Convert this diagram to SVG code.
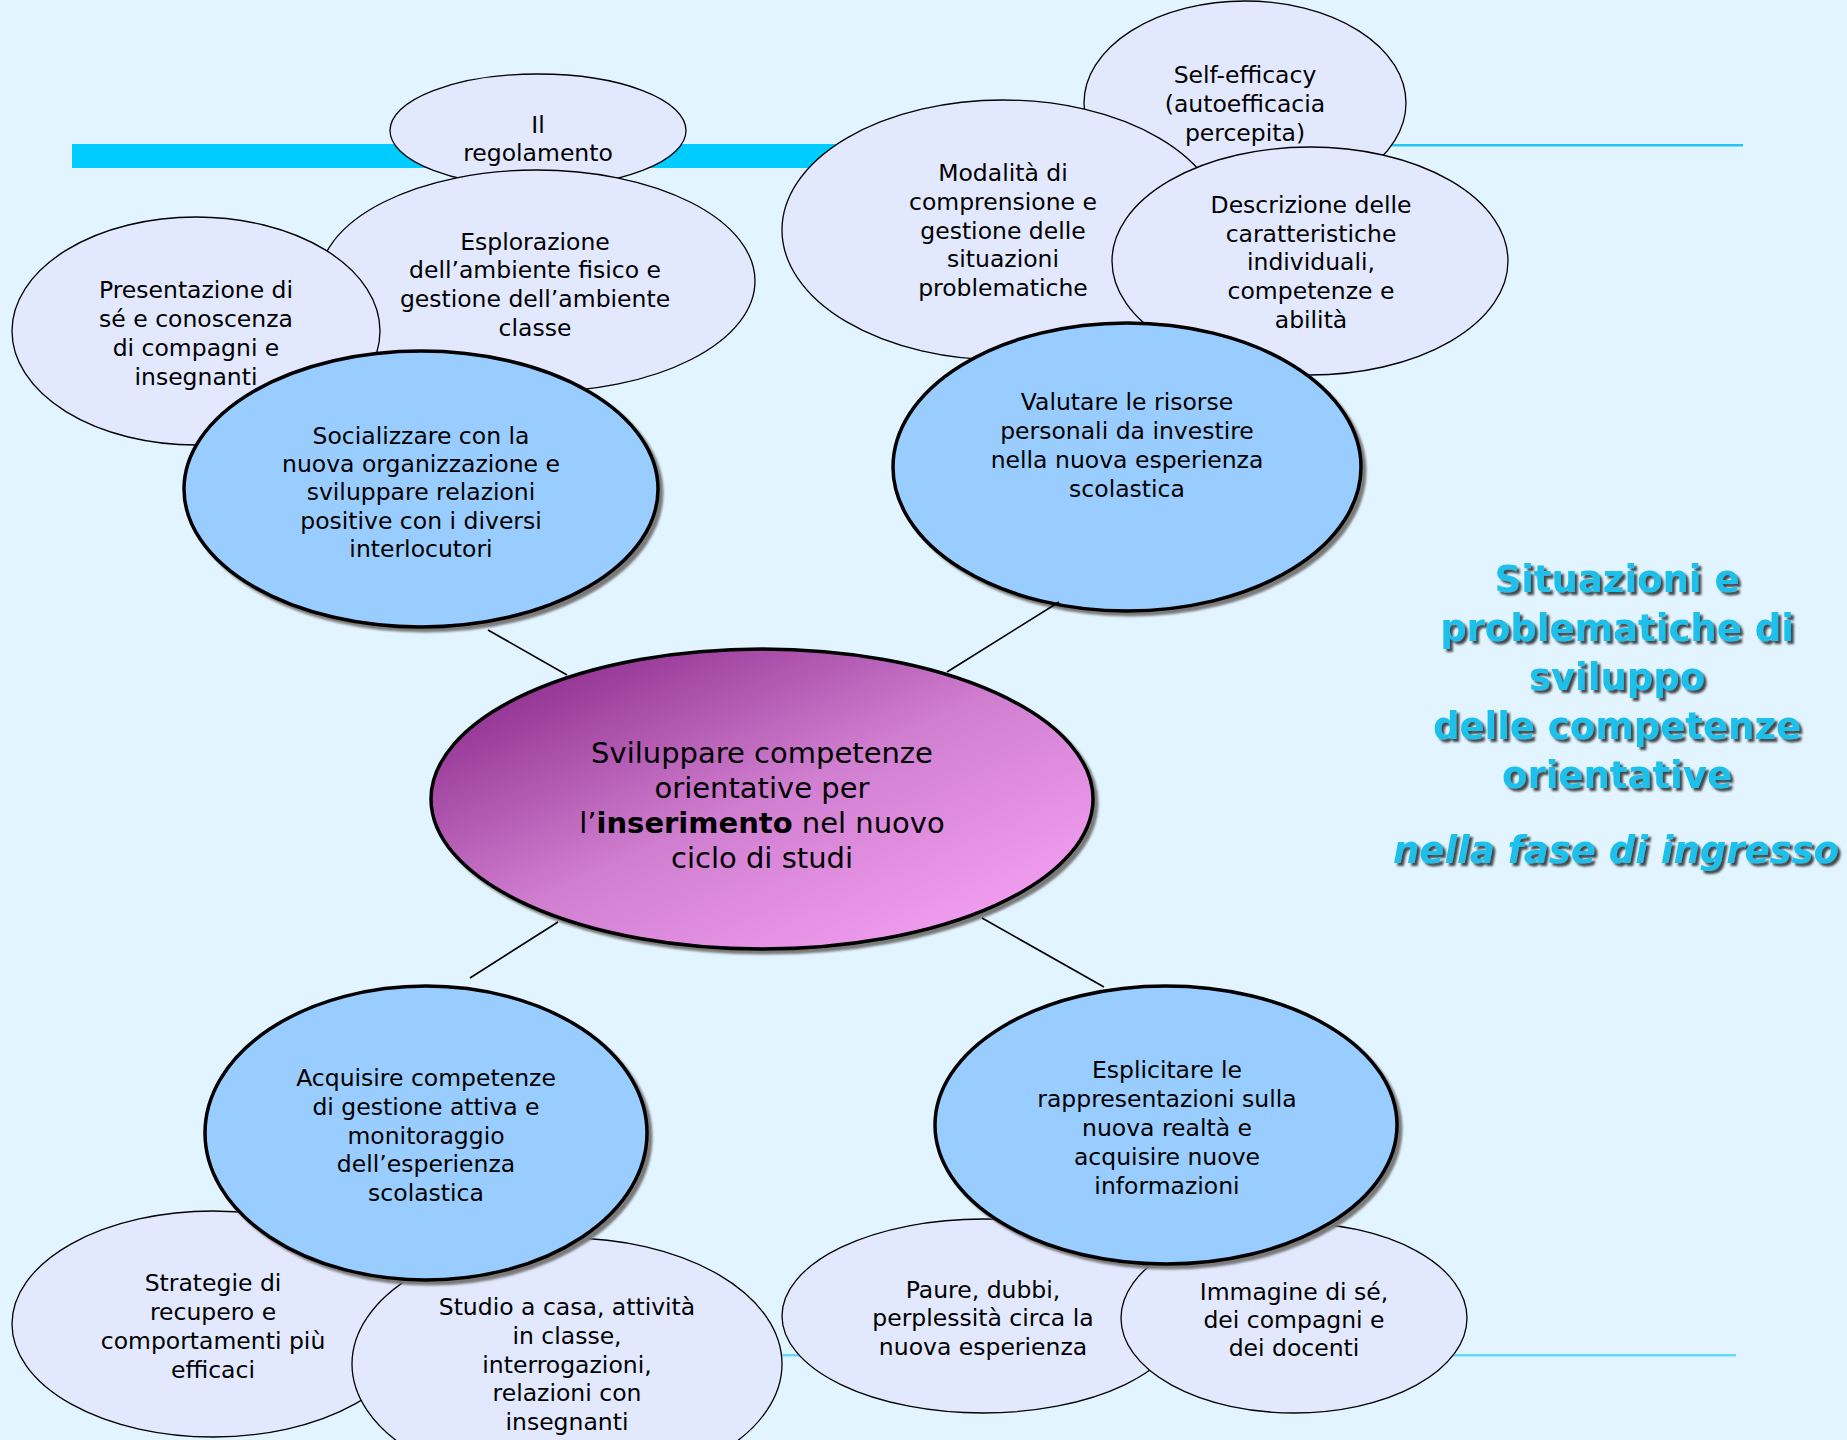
<svg xmlns="http://www.w3.org/2000/svg" width="1847" height="1440" viewBox="0 0 1847 1440">
<defs>
<style>
.sub{fill:#E2E8FE;stroke:#000;stroke-width:1.3}
.main{fill:#99CCFF;stroke:#000;stroke-width:3.5}
.shadow{fill:#7a7a7a;stroke:#7a7a7a;stroke-width:3;filter:url(#blur)}
.t{font-family:"DejaVu Sans","Verdana",sans-serif;font-size:23.5px;fill:#000;text-anchor:middle}
.tc{font-family:"DejaVu Sans","Verdana",sans-serif;font-size:29px;fill:#000;text-anchor:middle}
.title{font-family:"DejaVu Sans","Verdana",sans-serif;font-size:37px;font-weight:bold;fill:#1EC0EA;text-anchor:middle;filter:url(#ds)}
.conn line{stroke:#000;stroke-width:1.6}
</style>
<filter id="blur" x="-5%" y="-5%" width="110%" height="110%"><feGaussianBlur stdDeviation="1"/></filter>
<filter id="ds" x="-5%" y="-20%" width="115%" height="150%"><feDropShadow dx="3" dy="3" stdDeviation="1.2" flood-color="#2a2a2a" flood-opacity="0.85"/></filter>
<linearGradient id="cg" x1="0" y1="0" x2="1" y2="1">
<stop offset="0" stop-color="#7E1A7E"/>
<stop offset="0.5" stop-color="#D07ED0"/>
<stop offset="1" stop-color="#FCA8FA"/>
</linearGradient>
</defs>
<rect width="1847" height="1440" fill="#E1F4FF"/>
<g id="decor">
<rect x="72" y="144" width="940" height="24" fill="#00CCFF"/>
<rect x="1000" y="144" width="743" height="2.5" fill="#22C6F2"/>
<rect x="700" y="1354" width="1036" height="2.5" fill="#66DAF4"/>
</g>
<g id="n-regolamento"><ellipse class="sub" cx="538" cy="130.5" rx="148" ry="56.5"/>
<text class="t" x="538" y="133">Il</text><text class="t" x="538" y="161">regolamento</text></g>
<g id="n-esplorazione"><ellipse class="sub" cx="537" cy="281" rx="218" ry="111"/>
<text class="t" x="535" y="250">Esplorazione</text><text class="t" x="535" y="278">dell’ambiente fisico e</text><text class="t" x="535" y="307">gestione dell’ambiente</text><text class="t" x="535" y="336">classe</text></g>
<g id="n-presentazione"><ellipse class="sub" cx="196" cy="331" rx="184" ry="114"/>
<text class="t" x="196" y="298">Presentazione di</text><text class="t" x="196" y="327">sé e conoscenza</text><text class="t" x="196" y="356">di compagni e</text><text class="t" x="196" y="385">insegnanti</text></g>
<g id="n-socializzare"><ellipse class="shadow" cx="425" cy="493" rx="237" ry="138"/><ellipse class="main" cx="421" cy="489" rx="237" ry="138"/>
<text class="t" x="421" y="444">Socializzare con la</text><text class="t" x="421" y="472">nuova organizzazione e</text><text class="t" x="421" y="500">sviluppare relazioni</text><text class="t" x="421" y="529">positive con i diversi</text><text class="t" x="421" y="557">interlocutori</text></g>
<g id="n-selfefficacy"><ellipse class="sub" cx="1245" cy="103" rx="161" ry="102"/>
<text class="t" x="1245" y="83">Self-efficacy</text><text class="t" x="1245" y="112">(autoefficacia</text><text class="t" x="1245" y="141">percepita)</text></g>
<g id="n-modalita"><ellipse class="sub" cx="1003" cy="230" rx="221" ry="130"/>
<text class="t" x="1003" y="181">Modalità di</text><text class="t" x="1003" y="210">comprensione e</text><text class="t" x="1003" y="239">gestione delle</text><text class="t" x="1003" y="267">situazioni</text><text class="t" x="1003" y="296">problematiche</text></g>
<g id="n-descrizione"><ellipse class="sub" cx="1310" cy="261" rx="198" ry="114"/>
<text class="t" x="1311" y="213">Descrizione delle</text><text class="t" x="1311" y="242">caratteristiche</text><text class="t" x="1311" y="270">individuali,</text><text class="t" x="1311" y="299">competenze e</text><text class="t" x="1311" y="328">abilità</text></g>
<g id="n-valutare"><ellipse class="shadow" cx="1131" cy="471" rx="234" ry="144"/><ellipse class="main" cx="1127" cy="467" rx="234" ry="144"/>
<text class="t" x="1127" y="410">Valutare le risorse</text><text class="t" x="1127" y="439">personali da investire</text><text class="t" x="1127" y="468">nella nuova esperienza</text><text class="t" x="1127" y="497">scolastica</text></g>
<g id="n-strategie"><ellipse class="sub" cx="213" cy="1324" rx="201" ry="113"/>
<text class="t" x="213" y="1291">Strategie di</text><text class="t" x="213" y="1320">recupero e</text><text class="t" x="213" y="1349">comportamenti più</text><text class="t" x="213" y="1378">efficaci</text></g>
<g id="n-studio"><ellipse class="sub" cx="567" cy="1364" rx="215" ry="126"/>
<text class="t" x="567" y="1315">Studio a casa, attività</text><text class="t" x="567" y="1344">in classe,</text><text class="t" x="567" y="1373">interrogazioni,</text><text class="t" x="567" y="1401">relazioni con</text><text class="t" x="567" y="1430">insegnanti</text></g>
<g id="n-acquisire"><ellipse class="shadow" cx="430" cy="1137" rx="221" ry="147"/><ellipse class="main" cx="426" cy="1133" rx="221" ry="147"/>
<text class="t" x="426" y="1086">Acquisire competenze</text><text class="t" x="426" y="1115">di gestione attiva e</text><text class="t" x="426" y="1144">monitoraggio</text><text class="t" x="426" y="1172">dell’esperienza</text><text class="t" x="426" y="1201">scolastica</text></g>
<g id="n-paure"><ellipse class="sub" cx="983" cy="1316" rx="201" ry="97"/>
<text class="t" x="983" y="1298">Paure, dubbi,</text><text class="t" x="983" y="1326">perplessità circa la</text><text class="t" x="983" y="1355">nuova esperienza</text></g>
<g id="n-immagine"><ellipse class="sub" cx="1294" cy="1318" rx="173" ry="95"/>
<text class="t" x="1294" y="1300">Immagine di sé,</text><text class="t" x="1294" y="1328">dei compagni e</text><text class="t" x="1294" y="1356">dei docenti</text></g>
<g id="n-esplicitare"><ellipse class="shadow" cx="1170" cy="1129" rx="231" ry="139"/><ellipse class="main" cx="1166" cy="1125" rx="231" ry="139"/>
<text class="t" x="1167" y="1078">Esplicitare le</text><text class="t" x="1167" y="1107">rappresentazioni sulla</text><text class="t" x="1167" y="1136">nuova realtà e</text><text class="t" x="1167" y="1165">acquisire nuove</text><text class="t" x="1167" y="1194">informazioni</text></g>
<g id="n-center"><ellipse class="shadow" cx="766" cy="803" rx="331" ry="150"/><ellipse cx="762" cy="799" rx="331" ry="150" fill="url(#cg)" stroke="#000" stroke-width="3.5"/>
<text class="tc" x="762" y="763">Sviluppare competenze</text><text class="tc" x="762" y="798">orientative per</text><text class="tc" x="762" y="833">l’<tspan font-weight="bold">inserimento</tspan> nel nuovo</text><text class="tc" x="762" y="868">ciclo di studi</text></g>
<g id="connectors" class="conn">
<line x1="488" y1="630" x2="567" y2="675"/>
<line x1="947" y1="672" x2="1059" y2="602"/>
<line x1="558" y1="922" x2="470" y2="978"/>
<line x1="982" y1="918" x2="1104" y2="987"/>
</g>
<g id="title">
<text class="title" x="1617" y="592">Situazioni e</text>
<text class="title" x="1617" y="641">problematiche di</text>
<text class="title" x="1617" y="690">sviluppo</text>
<text class="title" x="1617" y="739">delle competenze</text>
<text class="title" x="1617" y="788">orientative</text>
<text class="title" x="1616" y="863" font-style="italic">nella fase di ingresso</text>
</g>
</svg>
